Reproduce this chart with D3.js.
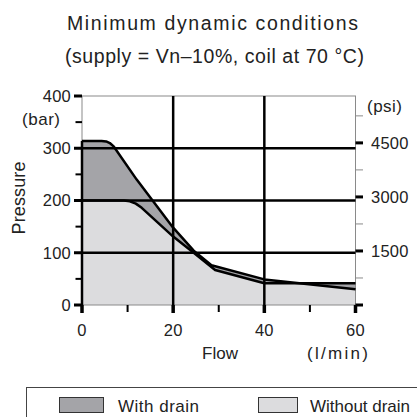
<!DOCTYPE html>
<html>
<head>
<meta charset="utf-8">
<script src="https://cdn.jsdelivr.net/npm/d3@7"></script>
<style>
  html, body { margin: 0; padding: 0; background: #fff; }
  svg { display: block; font-family: "Liberation Sans", Arial, sans-serif; }
</style>
</head>
<body>
<svg id="chart" width="417" height="417"></svg>
<script>
// chart values (flow l/min, pressure bar)
var withDrain = [[0,314],[4.3,314],[5.3,313],[6.1,310],[7,303],[12,240],[20,148],[24.5,104],[28.4,76],[40,49],[60,30]];
var withoutDrain = [[0,200],[9.2,200],[10.5,198.5],[11.8,194],[13.1,186],[20,131],[24.5,100],[29.2,67],[40,41.5],[60,41.5]];
var xMajor = [0,20,40,60];
var xMinor = [10,30,50];
var barMajor = [0,100,200,300,400];
var barMinor = [50,150,250,350];
var psiMajor = [0,1500,3000,4500];
var psiLabels = [1500,3000,4500];
var psiMinor = [750,2250,3750,5250];
var gridBar = [100,200,300];
var gridFlow = [20,40];
var legendItems = ["With drain","Without drain"];

var BAR_TO_PSI = 14.5038;
var darkFill = "#a4a4a8", lightFill = "#dcdcde";

var svg = d3.select("#chart");
var x = d3.scaleLinear().domain([0,60]).range([82,355.5]);
var y = d3.scaleLinear().domain([0,400]).range([305,96]);
var yPsi = d3.scaleLinear().domain([0,400*BAR_TO_PSI]).range([305,96]);

// titles
svg.append("text").attr("x",212.5).attr("y",30).attr("text-anchor","middle")
   .attr("font-size",19.5).attr("textLength",291).attr("lengthAdjust","spacing")
   .attr("fill","#222").text("Minimum dynamic conditions");
svg.append("text").attr("x",214.5).attr("y",63).attr("text-anchor","middle")
   .attr("font-size",19.5).attr("textLength",299).attr("lengthAdjust","spacing")
   .attr("fill","#222").text("(supply = Vn\u201310%, coil at 70 \u00b0C)");

// fills
var line = d3.line().x(d => x(d[0])).y(d => y(d[1]));
var area = d3.area().x(d => x(d[0])).y0(y(0)).y1(d => y(d[1]));

svg.append("path").attr("d", area(withoutDrain)).attr("fill", lightFill);
svg.append("path")
   .attr("d", line(withDrain.concat(withoutDrain.slice().reverse())) + "Z")
   .attr("fill", darkFill);

// frame
svg.append("rect").attr("x",x(0)).attr("y",y(400))
   .attr("width",x(60)-x(0)).attr("height",y(0)-y(400))
   .attr("fill","none").attr("stroke","#8a8a8a").attr("stroke-width",1);

// grid
svg.selectAll(".gh").data(gridBar).enter().append("line")
   .attr("x1",x(0)).attr("x2",x(60)).attr("y1",d=>y(d)).attr("y2",d=>y(d))
   .attr("stroke","#000").attr("stroke-width",2.5);
svg.selectAll(".gv").data(gridFlow).enter().append("line")
   .attr("x1",d=>x(d)).attr("x2",d=>x(d)).attr("y1",y(0)).attr("y2",y(400))
   .attr("stroke","#000").attr("stroke-width",2.5);

// curves
svg.append("path").attr("d", line(withoutDrain)).attr("fill","none")
   .attr("stroke","#000").attr("stroke-width",2.5).attr("stroke-linejoin","round");
svg.append("path").attr("d", line(withDrain)).attr("fill","none")
   .attr("stroke","#000").attr("stroke-width",2.5).attr("stroke-linejoin","round");
svg.append("line").attr("x1",x(0)).attr("x2",x(0)).attr("y1",y(0)).attr("y2",y(withDrain[0][1]))
   .attr("stroke","#000").attr("stroke-width",2.5);

// left axis ticks
svg.selectAll(".lmaj").data(barMajor).enter().append("line")
   .attr("x1",74).attr("x2",x(0)).attr("y1",d=>y(d)).attr("y2",d=>y(d))
   .attr("stroke","#000").attr("stroke-width",3);
svg.selectAll(".lmin").data(barMinor).enter().append("line")
   .attr("x1",75.5).attr("x2",x(0)).attr("y1",d=>y(d)).attr("y2",d=>y(d))
   .attr("stroke","#000").attr("stroke-width",2);
svg.selectAll(".llab").data(barMajor).enter().append("text")
   .attr("x",71).attr("y",d=>y(d)).attr("dy","0.36em").attr("text-anchor","end")
   .attr("font-size",16.5).attr("letter-spacing",0.2).attr("fill","#222").text(d=>d);

// bottom axis ticks
svg.selectAll(".bmaj").data(xMajor).enter().append("line")
   .attr("x1",d=>x(d)).attr("x2",d=>x(d)).attr("y1",y(0)).attr("y2",313)
   .attr("stroke","#000").attr("stroke-width",3.5);
svg.selectAll(".bmin").data(xMinor).enter().append("line")
   .attr("x1",d=>x(d)).attr("x2",d=>x(d)).attr("y1",y(0)).attr("y2",312)
   .attr("stroke","#000").attr("stroke-width",2);
svg.selectAll(".blab").data(xMajor).enter().append("text")
   .attr("x",d=>x(d)).attr("y",335.5).attr("text-anchor","middle")
   .attr("font-size",16.5).attr("letter-spacing",0.2).attr("fill","#222").text(d=>d);

// right axis (psi)
svg.selectAll(".rmaj").data(psiMajor).enter().append("line")
   .attr("x1",x(60)).attr("x2",363).attr("y1",d=>yPsi(d)).attr("y2",d=>yPsi(d))
   .attr("stroke","#000").attr("stroke-width",3);
svg.selectAll(".rmin").data(psiMinor).enter().append("line")
   .attr("x1",x(60)).attr("x2",363).attr("y1",d=>yPsi(d)).attr("y2",d=>yPsi(d))
   .attr("stroke","#8a8a8a").attr("stroke-width",1);
svg.selectAll(".rlab").data(psiLabels).enter().append("text")
   .attr("x",371).attr("y",d=>yPsi(d)).attr("dy","0.36em")
   .attr("font-size",16.5).attr("letter-spacing",0.2).attr("fill","#222").text(d=>d);

// axis titles
svg.append("text").attr("x",22).attr("y",125).attr("font-size",17)
   .attr("textLength",38).attr("lengthAdjust","spacing").attr("fill","#222").text("(bar)");
svg.append("text").attr("transform","translate(25,198) rotate(-90)").attr("text-anchor","middle")
   .attr("font-size",18).attr("textLength",73).attr("lengthAdjust","spacing")
   .attr("fill","#222").text("Pressure");
svg.append("text").attr("x",367).attr("y",112).attr("font-size",17)
   .attr("textLength",35).attr("lengthAdjust","spacing").attr("fill","#222").text("(psi)");
svg.append("text").attr("x",220).attr("y",359).attr("text-anchor","middle").attr("font-size",17)
   .attr("textLength",36).attr("lengthAdjust","spacing").attr("fill","#222").text("Flow");
svg.append("text").attr("x",337.5).attr("y",359).attr("text-anchor","middle").attr("font-size",17)
   .attr("textLength",61).attr("lengthAdjust","spacing").attr("fill","#222").text("(l/min)");

// legend
svg.append("rect").attr("x",26.5).attr("y",387.5).attr("width",420).attr("height",60)
   .attr("fill","none").attr("stroke","#444").attr("stroke-width",1);
var legX = [59, 258], legTx = [118, 310], legW = [44, 39], legTL = [81, 100];
var leg = svg.selectAll(".leg").data(legendItems).enter().append("g");
leg.append("rect").attr("x",(d,i)=>legX[i]+0.5).attr("y",397.5)
   .attr("width",(d,i)=>legW[i]).attr("height",15)
   .attr("fill",(d,i)=> i==0 ? darkFill : lightFill).attr("stroke","#333").attr("stroke-width",1);
leg.append("text").attr("x",(d,i)=>legTx[i]).attr("y",411.5).attr("font-size",17)
   .attr("textLength",(d,i)=>legTL[i]).attr("lengthAdjust","spacing")
   .attr("fill","#222").text(d=>d);
</script>
</body>
</html>
